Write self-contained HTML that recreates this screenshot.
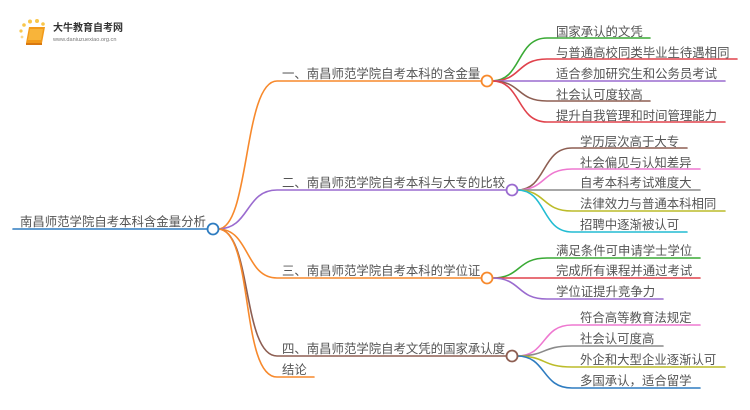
<!DOCTYPE html>
<html><head><meta charset="utf-8"><style>
html,body{margin:0;padding:0;background:#fff;}
svg{display:block;}
text{font-family:"Liberation Sans","Noto Sans CJK SC",sans-serif;font-size:12.4px;fill:#555;}
</style></head><body>
<svg width="750" height="410" viewBox="0 0 750 410" xmlns="http://www.w3.org/2000/svg">
<g fill="none" stroke-width="1.6" stroke-linecap="round">
<!-- root connectors -->
<path d="M218,229 C250,229 243,81 277,81 L482,81" stroke="#f7892c"/>
<path d="M218,229 C250,229 245,190 277,190 L507,190" stroke="#9a6bcf"/>
<path d="M218,229 C250,229 245,278 277,278 L482,278" stroke="#f7892c"/>
<path d="M218,229 C252,229 242,356 277,356 L507,356" stroke="#8d5e52"/>
<path d="M218,229 C254,229 240,377 277,377 L314,377" stroke="#f7892c"/>
<path d="M13,229 L208,229" stroke="#2e7cc0"/>
<!-- branch1 leaves -->
<path d="M492,81 C522,81 516,38 547,38 L650,38" stroke="#3aaa35"/>
<path d="M492,81 C522,81 516,59 547,59 L737,59" stroke="#e0424c"/>
<path d="M492,81 L725,81" stroke="#9a6bcf"/>
<path d="M492,81 C522,81 516,101 547,101 L650,101" stroke="#8d5e52"/>
<path d="M492,81 C522,81 516,122 547,122 L725,122" stroke="#e0424c"/>
<!-- branch2 leaves -->
<path d="M517,190 C547,190 541,148 572,148 L687,148" stroke="#8d5e52"/>
<path d="M517,190 C547,190 541,169 572,169 L700,169" stroke="#ee78d0"/>
<path d="M517,190 L700,190" stroke="#8a8a8a"/>
<path d="M517,190 C547,190 541,211 572,211 L725,211" stroke="#bcbc2a"/>
<path d="M517,190 C547,190 541,232 572,232 L687,232" stroke="#22bcd2"/>
<!-- branch3 leaves -->
<path d="M492,278 C522,278 516,258 547,258 L700,258" stroke="#3aaa35"/>
<path d="M492,278 L700,278" stroke="#e0424c"/>
<path d="M492,278 C522,278 516,299 547,299 L663,299" stroke="#9a6bcf"/>
<!-- branch4 leaves -->
<path d="M517,356 C547,356 541,325 572,325 L700,325" stroke="#ee78d0"/>
<path d="M517,356 C547,356 541,346 572,346 L663,346" stroke="#8a8a8a"/>
<path d="M517,356 C547,356 541,367 572,367 L725,367" stroke="#bcbc2a"/>
<path d="M517,356 C547,356 541,388 572,388 L700,388" stroke="#2e7cc0"/>
</g>
<!-- circles -->
<g fill="#fff" stroke-width="1.8">
<circle cx="213" cy="229" r="5.5" stroke="#2e7cc0"/>
<circle cx="487" cy="81" r="5.5" stroke="#f7892c"/>
<circle cx="512" cy="190" r="5.5" stroke="#9a6bcf"/>
<circle cx="487" cy="278" r="5.5" stroke="#f7892c"/>
<circle cx="512" cy="356" r="5.5" stroke="#8d5e52"/>
</g>
<!-- texts -->
<text x="20" y="226">南昌师范学院自考本科含金量分析</text>
<text x="282" y="78">一、南昌师范学院自考本科的含金量</text>
<text x="282" y="187">二、南昌师范学院自考本科与大专的比较</text>
<text x="282" y="275">三、南昌师范学院自考本科的学位证</text>
<text x="282" y="353">四、南昌师范学院自考文凭的国家承认度</text>
<text x="282" y="374">结论</text>

<text x="556" y="36">国家承认的文凭</text>
<text x="556" y="57">与普通高校同类毕业生待遇相同</text>
<text x="556" y="78">适合参加研究生和公务员考试</text>
<text x="556" y="99">社会认可度较高</text>
<text x="556" y="120">提升自我管理和时间管理能力</text>

<text x="580" y="146">学历层次高于大专</text>
<text x="580" y="167">社会偏见与认知差异</text>
<text x="580" y="187">自考本科考试难度大</text>
<text x="580" y="208">法律效力与普通本科相同</text>
<text x="580" y="229">招聘中逐渐被认可</text>

<text x="556" y="255">满足条件可申请学士学位</text>
<text x="556" y="275">完成所有课程并通过考试</text>
<text x="556" y="296">学位证提升竞争力</text>

<text x="580" y="322">符合高等教育法规定</text>
<text x="580" y="343">社会认可度高</text>
<text x="580" y="364">外企和大型企业逐渐认可</text>
<text x="580" y="385">多国承认，适合留学</text>

<!-- logo -->
<g>
<circle cx="21" cy="31" r="1.6" fill="#f9c64a"/>
<circle cx="24" cy="25" r="1.8" fill="#f9c64a"/>
<circle cx="30" cy="21.5" r="2" fill="#f9c64a"/>
<circle cx="37" cy="21" r="2" fill="#f9c64a"/>
<circle cx="43" cy="24" r="1.8" fill="#f9c64a"/>
<circle cx="22" cy="37" r="1.4" fill="#fbd98a"/>
<path d="M29,27 L45,27 L42,43 L26,43 Z" fill="#f29a1a"/>
<path d="M30,29 L43,29 L41,40 L28,40 Z" fill="#f8b43a"/>
<path d="M26,43 L42,43 L42,45 L26,45 Z" fill="#d9780f"/>
<text x="53" y="31" style="font-size:10px;fill:#333;font-weight:bold;">大牛教育自考网</text>
<text x="53" y="41" style="font-size:5.6px;fill:#777;">www.daniuzuexiao.org.cn</text>
</g>
</svg>
</body></html>
